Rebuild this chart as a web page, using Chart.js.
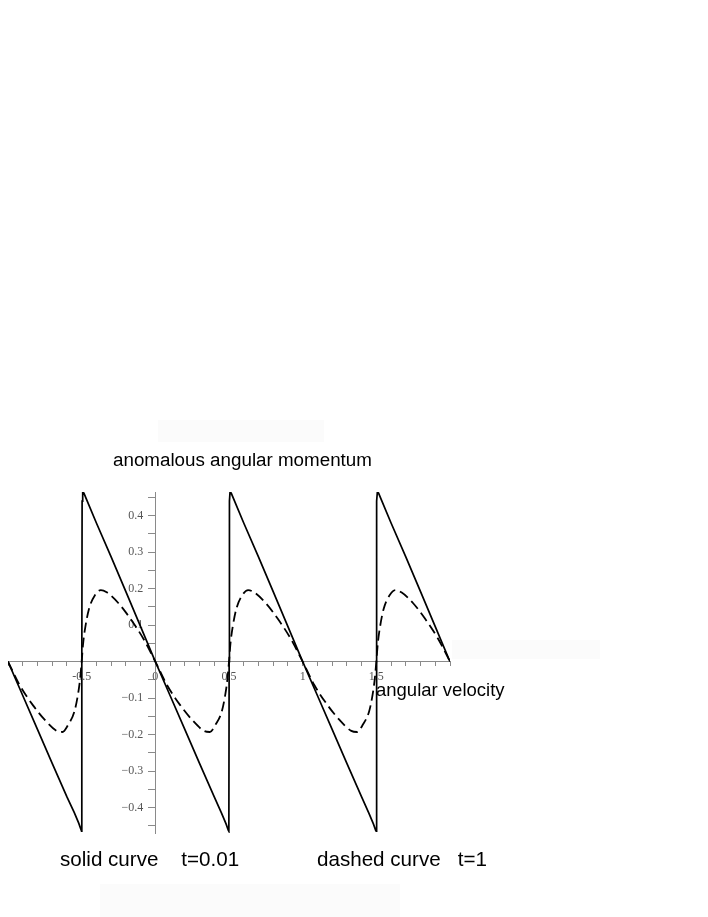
<!DOCTYPE html>
<html>
<head>
<meta charset="utf-8">
<script src="https://cdn.jsdelivr.net/npm/chart.js@4.4.1/dist/chart.umd.min.js"></script>
<style>
  body { margin: 0; background: #fff; }
  #wrap { position: relative; width: 708px; height: 917px; overflow: hidden; }
  #myChart { position: absolute; left: 0; top: 0; }
  .txt { position: absolute; font-family: "Liberation Sans", Arial, sans-serif; color: #000; line-height: 1; white-space: pre; }
  .smudge { position: absolute; background: #fbfbfb; }
</style>
</head>
<body>
<div id="wrap">
  <div class="smudge" style="left:158px; top:420px; width:166px; height:22px;"></div>
  <div class="smudge" style="left:452px; top:640px; width:148px; height:19px;"></div>
  <div class="smudge" style="left:100px; top:884px; width:300px; height:33px;"></div>
  <canvas id="myChart" width="708" height="917"></canvas>
  <div class="txt" style="left:113px; top:451px; font-size:18.8px;">anomalous angular momentum</div>
  <div class="txt" style="left:376px; top:681px; font-size:18.5px;">angular velocity</div>
  <div class="txt" style="left:60px; top:849px; font-size:20.6px;">solid curve    t=0.01</div>
  <div class="txt" style="left:317px; top:849px; font-size:20.6px;">dashed curve   t=1</div>
</div>
<script>
// solid curve, t=0.01 (sawtooth)
var solidX = [-1, -0.9, -0.8, -0.7, -0.6, -0.55, -0.52, -0.505, -0.501,
  -0.499, -0.497, -0.493, -0.485, -0.4, -0.3, -0.2, -0.1,
  0, 0.1, 0.2, 0.3, 0.4, 0.45, 0.48, 0.495, 0.499,
  0.501, 0.503, 0.507, 0.515, 0.6, 0.7, 0.8, 0.9,
  1, 1.1, 1.2, 1.3, 1.4, 1.45, 1.48, 1.495, 1.499,
  1.501, 1.503, 1.507, 1.515, 1.6, 1.7, 1.8, 1.9, 2];
var solidY = [0, -0.093, -0.186, -0.279, -0.371, -0.414, -0.443, -0.46, -0.465,
  0.0, 0.44, 0.465, 0.462, 0.38, 0.287, 0.192, 0.096,
  0, -0.093, -0.186, -0.279, -0.371, -0.416, -0.445, -0.462, -0.465,
  0.0, 0.44, 0.465, 0.462, 0.38, 0.287, 0.192, 0.096,
  0, -0.093, -0.186, -0.279, -0.371, -0.416, -0.445, -0.462, -0.465,
  0.0, 0.44, 0.465, 0.462, 0.38, 0.287, 0.192, 0.096, 0];

// dashed curve, t=1
var dashX = [-1, -0.92, -0.83, -0.75, -0.67, -0.63, -0.59, -0.55, -0.525, -0.51,
  -0.5, -0.49, -0.475, -0.45, -0.41, -0.37, -0.33, -0.25, -0.17, -0.08,
  0, 0.08, 0.17, 0.25, 0.33, 0.37, 0.41, 0.45, 0.475, 0.49,
  0.5, 0.51, 0.525, 0.55, 0.59, 0.63, 0.67, 0.75, 0.83, 0.92,
  1, 1.08, 1.17, 1.25, 1.33, 1.37, 1.41, 1.45, 1.475, 1.49,
  1.5, 1.51, 1.525, 1.55, 1.59, 1.63, 1.67, 1.75, 1.83, 1.92, 2];
var dashY = [0, -0.065, -0.12, -0.16, -0.19, -0.193, -0.172, -0.138, -0.09, -0.045,
  0, 0.05, 0.095, 0.145, 0.182, 0.196, 0.19, 0.16, 0.118, 0.062,
  0, -0.065, -0.12, -0.16, -0.19, -0.193, -0.172, -0.138, -0.09, -0.045,
  0, 0.05, 0.095, 0.145, 0.182, 0.196, 0.19, 0.16, 0.118, 0.062,
  0, -0.065, -0.12, -0.16, -0.19, -0.193, -0.172, -0.138, -0.09, -0.045,
  0, 0.05, 0.095, 0.145, 0.182, 0.196, 0.19, 0.16, 0.118, 0.062, 0];

var xLabelled = [-0.5, 0, 0.5, 1, 1.5];
var yLabelled = [-0.4, -0.3, -0.2, -0.1, 0.1, 0.2, 0.3, 0.4];

function toPoints(xs, ys) {
  return xs.map(function (x, i) { return { x: x, y: ys[i] }; });
}

function hasValue(list, v) {
  return list.some(function (a) { return Math.abs(a - v) < 1e-6; });
}

var axisGrey = '#8a8a8a';
var tickFont = { family: '"Liberation Serif", "Times New Roman", serif', size: 12 };

var ctx = document.getElementById('myChart').getContext('2d');
var myChart = new Chart(ctx, {
  type: 'line',
  data: {
    datasets: [{
      data: toPoints(solidX, solidY),
      borderColor: '#000',
      borderWidth: 1.7,
      pointRadius: 0,
      tension: 0,
      fill: false
    }, {
      data: toPoints(dashX, dashY),
      borderColor: '#000',
      borderWidth: 1.8,
      borderDash: [10, 5],
      pointRadius: 0,
      cubicInterpolationMode: 'monotone',
      fill: false
    }]
  },
  options: {
    responsive: false,
    animation: false,
    layout: { padding: { left: 8, right: 258, top: 492, bottom: 84 } },
    plugins: { legend: { display: false }, tooltip: { enabled: false } },
    scales: {
      x: {
        type: 'linear',
        position: { y: 0 },
        min: -1,
        max: 2,
        border: { display: true, color: axisGrey, width: 1 },
        grid: { drawOnChartArea: false, drawTicks: true, tickLength: 4, color: axisGrey },
        ticks: {
          stepSize: 0.1,
          includeBounds: false,
          autoSkip: false,
          maxRotation: 0,
          padding: 4,
          color: '#555',
          font: tickFont,
          callback: function (v) {
            return hasValue(xLabelled, v) ? String(Math.round(v * 10) / 10) : '';
          }
        }
      },
      y: {
        type: 'linear',
        position: { x: 0 },
        min: -0.47,
        max: 0.465,
        border: { display: true, color: axisGrey, width: 1 },
        grid: { drawOnChartArea: false, drawTicks: true, tickLength: 7, color: axisGrey },
        ticks: {
          stepSize: 0.05,
          includeBounds: false,
          autoSkip: false,
          color: '#555',
          font: tickFont,
          // labels sit right on the axis line when it is placed at x=0,
          // so trailing spaces push them clear of the tick marks
          callback: function (v) {
            if (!hasValue(yLabelled, v)) return '';
            var r = Math.round(v * 10) / 10;
            var s = r < 0 ? '\u2212' + Math.abs(r) : String(r);
            return s + '    ';
          }
        }
      }
    }
  }
});
</script>
</body>
</html>
